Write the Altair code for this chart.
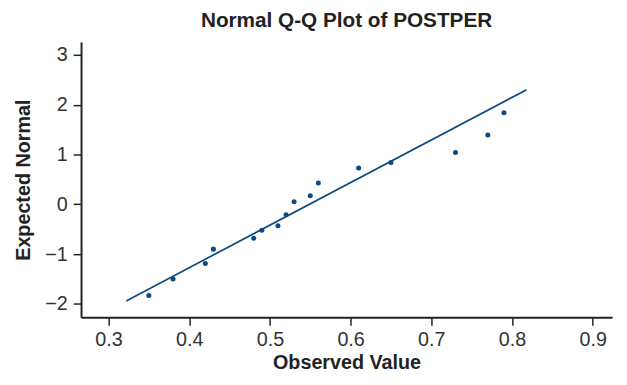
import altair as alt
import pandas as pd

observed = [0.35, 0.38, 0.42, 0.43, 0.48, 0.49, 0.51, 0.52, 0.53, 0.55, 0.56, 0.61, 0.65, 0.73, 0.77, 0.79]
expected = [-1.83, -1.50, -1.19, -0.90, -0.68, -0.52, -0.43, -0.21, 0.05, 0.17, 0.43, 0.73, 0.84, 1.04, 1.39, 1.84]
line_x = [0.322, 0.818]
line_y = [-1.94, 2.30]
x_ticks = [0.3, 0.4, 0.5, 0.6, 0.7, 0.8, 0.9]
y_ticks = [-2, -1, 0, 1, 2, 3]

pts = pd.DataFrame({"obs": observed, "exp": expected})
ln = pd.DataFrame({"obs": line_x, "exp": line_y})

FONT = "Liberation Sans"
BLUE = "#0c4a80"

xs = alt.Scale(domain=[0.266, 0.924], nice=False, zero=False)
ys = alt.Scale(domain=[-2.27, 3.26], nice=False, zero=False)

xax = alt.Axis(values=x_ticks, format=".1f", title="Observed Value", grid=False,
               domainColor="#222222", domainWidth=2, tickColor="#222222", tickWidth=1.5,
               tickSize=8, labelFontSize=20, labelColor="#333333", labelFont=FONT,
               labelPadding=5, titleFont=FONT, titleFontSize=20, titleFontWeight="bold",
               titleColor="#222222", titlePadding=3)
yax = alt.Axis(values=y_ticks, format="d", title="Expected Normal", grid=False,
               domainColor="#222222", domainWidth=2, tickColor="#222222", tickWidth=1.5,
               tickSize=8, labelFontSize=20, labelColor="#333333", labelFont=FONT,
               labelPadding=6, titleFont=FONT, titleFontSize=20, titleFontWeight="bold",
               titleColor="#222222", titlePadding=11)

line = alt.Chart(ln).mark_line(color=BLUE, strokeWidth=1.7).encode(
    x=alt.X("obs:Q", scale=xs, axis=xax),
    y=alt.Y("exp:Q", scale=ys, axis=yax),
)
points = alt.Chart(pts).mark_circle(color=BLUE, size=26, opacity=1).encode(
    x=alt.X("obs:Q", scale=xs),
    y=alt.Y("exp:Q", scale=ys),
)

chart = alt.layer(line, points).properties(
    width=538, height=279,
    title=alt.Title("Normal Q-Q Plot of POSTPER", font=FONT, fontSize=21,
                    fontWeight="bold", color="#222222", anchor="middle", offset=11),
    autosize=alt.AutoSizeParams(type="none"),
    padding={"left": 74, "top": 32, "right": 7, "bottom": 58},
).configure_view(stroke=None)

chart.save("out.html", embed_options={"renderer": "svg", "actions": False})
